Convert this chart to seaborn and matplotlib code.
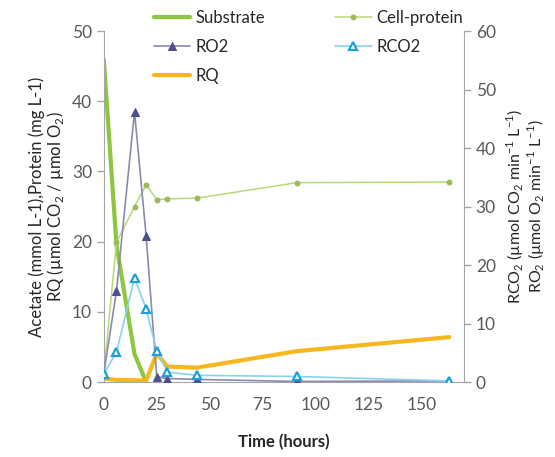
import matplotlib
matplotlib.use('Agg')

import seaborn as sns
import matplotlib.pyplot as plt

# data
time_h = [0, 6, 14.5, 20, 25, 30, 44, 91, 163]
substrate_time = [0, 6, 14.5, 20]
substrate = [46, 19.5, 4.0, 0]
cell_protein = [1.2, 19.9, 25.0, 28.1, 26.0, 26.1, 26.2, 28.4, 28.5]
ro2 = [1.4, 15.6, 46.2, 24.9, 0.9, 0.6, 0.45, 0.1, 0.2]
rco2 = [1.4, 5.1, 17.8, 12.5, 5.3, 1.7, 1.15, 0.95, 0.2]
rq = [0.5, 0.3, 0.25, 0.2, 4.1, 2.2, 2.05, 4.4, 6.4]

sns.set_style('white')
plt.rcParams['font.family'] = ['Lato', 'DejaVu Sans']
plt.rcParams['mathtext.fontset'] = 'custom'
plt.rcParams['mathtext.rm'] = 'Lato'

tick_col = '#595959'
spine_col = '#A6A6A6'

fig = plt.figure(figsize=(5.55, 4.57), dpi=100)
ax = fig.add_axes([0.187, 0.164, 0.649, 0.768])
ax2 = ax.twinx()

sns.lineplot(x=substrate_time, y=substrate, ax=ax, color='#8DC63F', linewidth=3, label='Substrate')
sns.lineplot(x=time_h, y=cell_protein, ax=ax, color='#B8D77A', linewidth=1.1,
             marker='o', markersize=3.5, markerfacecolor='#9BBB59', markeredgecolor='#9BBB59',
             label='Cell-protein')
sns.lineplot(x=time_h, y=rq, ax=ax, color='#F6B71E', linewidth=3, label='RQ')

sns.lineplot(x=time_h, y=ro2, ax=ax2, color='#8A8AAE', linewidth=1.2,
             marker='^', markersize=6, markerfacecolor='#4F4F8F', markeredgecolor='#4F4F8F',
             label='RO2')
sns.lineplot(x=time_h, y=rco2, ax=ax2, color='#86D3F0', linewidth=1.2,
             marker='^', markersize=6, markerfacecolor='white', markeredgecolor='#1E9FDB',
             markeredgewidth=1.6, label='RCO2')

ax.set_xlim(0, 170)
ax.set_ylim(0, 50)
ax2.set_ylim(0, 60)
ax.set_xticks([0, 25, 50, 75, 100, 125, 150])
ax.set_yticks(range(0, 51, 10))
ax2.set_yticks(range(0, 61, 10))

for a in (ax, ax2):
    for s in a.spines.values():
        s.set_color(spine_col)
    a.spines['top'].set_visible(False)
    a.tick_params(colors=spine_col, labelcolor=tick_col, labelsize=12.5, length=5, width=1)
ax.spines['right'].set_visible(False)
ax2.spines['left'].set_visible(False)
ax2.spines['bottom'].set_visible(False)
ax.tick_params(axis='x', pad=6)

ax.set_xlabel('Time (hours)', fontsize=12, fontweight='bold', labelpad=15)
ax.set_ylabel('Acetate (mmol L-1),Protein (mg L-1)\nRQ (µmol CO$_2$ / µmol O$_2$)',
              fontsize=12, labelpad=4, linespacing=1.0)
ax2.set_ylabel('RCO$_2$ (µmol CO$_2$ min$^{-1}$ L$^{-1}$)\nRO$_2$ (µmol O$_2$ min$^{-1}$ L$^{-1}$)',
               fontsize=11.5, labelpad=6, linespacing=1.0)

h1, l1 = ax.get_legend_handles_labels()
h2, l2 = ax2.get_legend_handles_labels()
ax.get_legend().remove()
ax2.get_legend().remove()
hd = dict(zip(l1 + l2, h1 + h2))
order = ['Substrate', 'RO2', 'RQ', 'Cell-protein', 'RCO2']
fig.legend([hd[k] for k in order], order, ncol=2, frameon=False, fontsize=12,
           loc='upper left', bbox_to_anchor=(0.25, 1.012), handlelength=2.2,
           handletextpad=0.3, columnspacing=4.2, labelspacing=0.78)

fig.savefig('out.png', dpi=100)
